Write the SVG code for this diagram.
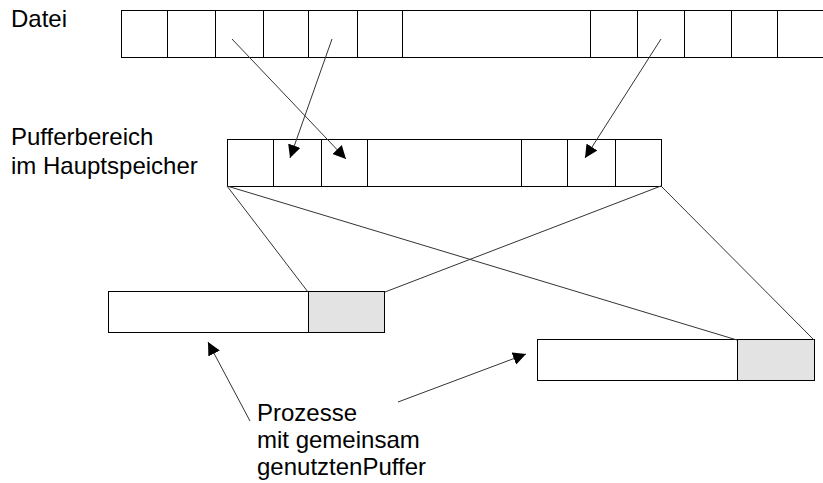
<svg xmlns="http://www.w3.org/2000/svg" width="823" height="483" viewBox="0 0 823 483">
  <style>
    .lbl { font-family: "Liberation Sans", Arial, sans-serif; font-size: 24px; fill: #000; }
    .cell { fill: #fff; stroke: #000; stroke-width: 1; }
    .shared { fill: #e3e3e3; stroke: #000; stroke-width: 1; }
    .div { stroke: #000; stroke-width: 1; }
    .conn { stroke: #333; stroke-width: 1; fill: none; }
    .arr { stroke: #333; stroke-width: 1; fill: none; marker-end: url(#head); }
  </style>
  <defs>
    <marker id="head" viewBox="0 0 10 10" refX="10" refY="5" markerWidth="13" markerHeight="13" markerUnits="userSpaceOnUse" orient="auto">
      <path d="M0,0 L10,5 L0,10 z" fill="#000"/>
    </marker>
  </defs>

  <!-- file -->
  <g id="datei">
    <text class="lbl" x="11" y="27">Datei</text>
    <rect class="cell" x="121.5" y="10.5" width="710" height="47"/>
    <g class="div">
      <line x1="167.5" y1="10" x2="167.5" y2="58"/>
      <line x1="215.5" y1="10" x2="215.5" y2="58"/>
      <line x1="263.5" y1="10" x2="263.5" y2="58"/>
      <line x1="308.5" y1="10" x2="308.5" y2="58"/>
      <line x1="357.5" y1="10" x2="357.5" y2="58"/>
      <line x1="402.5" y1="10" x2="402.5" y2="58"/>
      <line x1="590.5" y1="10" x2="590.5" y2="58"/>
      <line x1="637.5" y1="10" x2="637.5" y2="58"/>
      <line x1="684.5" y1="10" x2="684.5" y2="58"/>
      <line x1="731.5" y1="10" x2="731.5" y2="58"/>
      <line x1="777.5" y1="10" x2="777.5" y2="58"/>
    </g>
  </g>

  <!-- buffer area in main memory -->
  <g id="puffer">
    <text class="lbl" x="11" y="145">Pufferbereich</text>
    <text class="lbl" x="11" y="174">im Hauptspeicher</text>
    <rect class="cell" x="227.5" y="139.5" width="434" height="47"/>
    <g class="div">
      <line x1="273.5" y1="139" x2="273.5" y2="187"/>
      <line x1="321.5" y1="139" x2="321.5" y2="187"/>
      <line x1="367.5" y1="139" x2="367.5" y2="187"/>
      <line x1="521.5" y1="139" x2="521.5" y2="187"/>
      <line x1="567.5" y1="139" x2="567.5" y2="187"/>
      <line x1="615.5" y1="139" x2="615.5" y2="187"/>
    </g>
  </g>

  <!-- process 1 -->
  <g id="prozess1">
    <rect class="cell" x="108.5" y="291.5" width="200" height="41"/>
    <rect class="shared" x="308.5" y="291.5" width="76" height="41"/>
  </g>

  <!-- process 2 -->
  <g id="prozess2">
    <rect class="cell" x="537.5" y="339.5" width="200" height="41"/>
    <rect class="shared" x="737.5" y="339.5" width="77" height="41"/>
  </g>

  <!-- caption -->
  <g id="beschriftung">
    <text class="lbl" x="257" y="421">Prozesse</text>
    <text class="lbl" x="257" y="448">mit gemeinsam</text>
    <text class="lbl" x="257" y="475">genutztenPuffer</text>
  </g>

  <g id="connectors">
    <line class="arr" x1="232" y1="39" x2="346" y2="159"/>
    <line class="arr" x1="332" y1="39" x2="290" y2="158"/>
    <line class="arr" x1="661" y1="39" x2="585" y2="158"/>
    <line class="conn" x1="227" y1="186" x2="308" y2="292"/>
    <line class="conn" x1="227" y1="186" x2="737" y2="340"/>
    <line class="conn" x1="661" y1="186" x2="385" y2="292"/>
    <line class="conn" x1="661" y1="186" x2="814" y2="340"/>
    <line class="arr" x1="250" y1="421" x2="208" y2="342"/>
    <line class="arr" x1="398" y1="402" x2="526" y2="354"/>
  </g>
</svg>
